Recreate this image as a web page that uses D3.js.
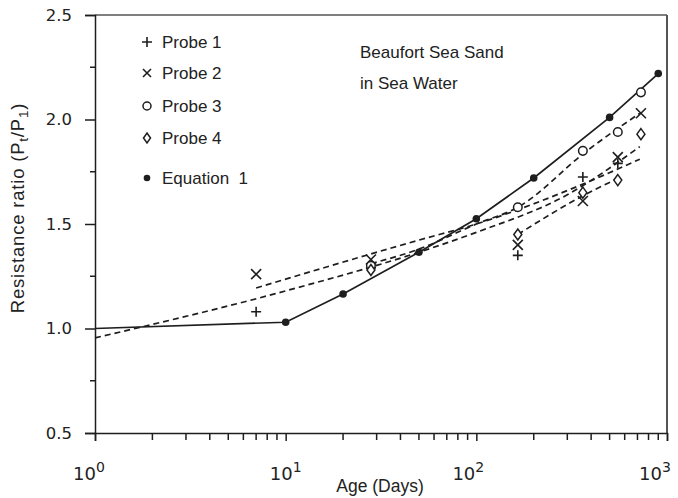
<!DOCTYPE html>
<html><head><meta charset="utf-8">
<script src="https://cdn.jsdelivr.net/npm/d3@7"></script>
<style>
body{margin:0;background:#fff;}
text{font-family:"Liberation Sans",Arial,Helvetica,sans-serif;fill:#222;white-space:pre;}
</style></head>
<body><svg id="c" width="678" height="498"></svg>
<script>
// ---- data ----
const probe1Age = [7, 28, 165, 362, 552];
const probe1 = [1.08, 1.29, 1.35, 1.725, 1.79];
const probe2Age = [7, 28, 165, 362, 552, 730];
const probe2 = [1.26, 1.33, 1.40, 1.61, 1.82, 2.03];
const probe3Age = [28, 165, 362, 552, 730];
const probe3 = [1.30, 1.58, 1.85, 1.94, 2.13];
const probe4Age = [28, 165, 362, 552, 730];
const probe4 = [1.28, 1.45, 1.65, 1.71, 1.93];
const eqAge = [1, 10, 20, 50, 100, 200, 500, 900];
const eqVal = [1.0, 1.03, 1.165, 1.365, 1.525, 1.72, 2.01, 2.22];
// dashed trend curves: ages and values
const trendAAge = [1, 10, 50, 100, 300, 720];
const trendA = [0.955, 1.18, 1.365, 1.46, 1.64, 1.87];
const trendBAge = [7, 50, 100, 300, 720];
const trendB = [1.194, 1.423, 1.50, 1.66, 1.81];
const trendCAge = [28, 50, 100, 165, 380, 720];
const trendC = [1.31, 1.38, 1.50, 1.58, 1.85, 2.03];
const trendDAge = [165, 380, 560];
const trendD = [1.45, 1.645, 1.72];
const yTicks = [0.5, 1.0, 1.5, 2.0, 2.5];
const yMinor = [0.75, 1.25, 1.75, 2.25];
const xTickExp = [0, 1, 2, 3];
const legendLabels = ["Probe 1", "Probe 2", "Probe 3", "Probe 4", "Equation  1"];

// ---- layout ----
const svg = d3.select("#c");
const L = 95, R = 667, T = 15, B = 433;
const x = d3.scaleLog().domain([1, 1000]).range([L, R]);
const y = d3.scaleLinear().domain([0.5, 2.5]).range([B, T]);
const ink = "#1e1e1e";
const numFont = "'DejaVu Sans',sans-serif";

// frame
svg.append("line").attr("x1", L).attr("x2", R).attr("y1", T).attr("y2", T).attr("stroke", "#555").attr("stroke-width", 1.5);
svg.append("line").attr("x1", R).attr("x2", R).attr("y1", T).attr("y2", B).attr("stroke", "#555").attr("stroke-width", 2);

// y axis
const yAx = svg.append("g").attr("transform", `translate(${L},0)`)
  .call(d3.axisLeft(y).tickValues(yTicks).tickFormat(d3.format(".1f")).tickSize(10).tickPadding(13));
yAx.selectAll("text").style("font-size", "16.5px").style("font-family", numFont);
yAx.append("g").selectAll("line").data(yMinor).join("line")
  .attr("x1", -5).attr("x2", 0).attr("y1", d => y(d)).attr("y2", d => y(d));

// x axis
const minor = [];
for (let e = 0; e < 3; e++) for (let m = 2; m <= 9; m++) minor.push(m * Math.pow(10, e));
const xAx = svg.append("g").attr("transform", `translate(0,${B})`)
  .call(d3.axisBottom(x).tickValues(xTickExp.map(e => Math.pow(10, e))).tickFormat("").tickSize(8));
xAx.append("g").selectAll("line").data(minor).join("line")
  .attr("x1", d => x(d)).attr("x2", d => x(d)).attr("y1", 0).attr("y2", 7);
[yAx, xAx].forEach(g => {
  g.select(".domain").attr("stroke", ink).attr("stroke-width", 1.5);
  g.selectAll("line").attr("stroke", ink).attr("stroke-width", 1.5);
});
// x tick labels with superscripts (last one kept inside the page)
const labShift = [-6, 0, -8, -12];
xAx.append("g").selectAll("text").data(xTickExp).join("text")
  .attr("x", (d, i) => x(Math.pow(10, d)) + labShift[i]).attr("y", 47).attr("text-anchor", "middle")
  .style("font-size", "18px").style("font-family", numFont)
  .each(function (d) {
    const t = d3.select(this);
    t.append("tspan").text("10");
    t.append("tspan").attr("dy", -8).style("font-size", "14px").text(d);
  });

// axis titles
svg.append("text").attr("x", 380).attr("y", 492).attr("text-anchor", "middle").style("font-size", "17.5px").text("Age (Days)");
const yt = svg.append("text").attr("transform", "translate(24,208) rotate(-90)").attr("text-anchor", "middle")
  .style("font-size", "18.5px").style("letter-spacing", "0.8px");
yt.append("tspan").text("Resistance ratio (P");
yt.append("tspan").attr("dy", 4).style("font-size", "13.5px").text("t");
yt.append("tspan").attr("dy", -4).text("/P");
yt.append("tspan").attr("dy", 4).style("font-size", "13.5px").text("1");
yt.append("tspan").attr("dy", -4).text(")");

// dashed trend curves
const curve = d3.line().x(d => x(d[0])).y(d => y(d[1])).curve(d3.curveMonotoneX);
[[trendAAge, trendA], [trendBAge, trendB], [trendCAge, trendC], [trendDAge, trendD]].forEach(([ages, vals]) => {
  svg.append("path").datum(ages.map((a, i) => [a, vals[i]])).attr("d", curve)
    .attr("fill", "none").attr("stroke", ink).attr("stroke-width", 1.7).attr("stroke-dasharray", "6,4");
});

// equation line
const eqPts = eqAge.map((a, i) => [a, eqVal[i]]);
svg.append("path").datum(eqPts)
  .attr("d", d3.line().x(d => x(d[0])).y(d => y(d[1])))
  .attr("fill", "none").attr("stroke", ink).attr("stroke-width", 1.7);
svg.append("g").selectAll("circle").data(eqPts.slice(1)).join("circle")
  .attr("cx", d => x(d[0])).attr("cy", d => y(d[1])).attr("r", 3.8).attr("fill", ink);

// markers
function plus(g, cx, cy) { g.append("path").attr("d", `M${cx-5},${cy}H${cx+5}M${cx},${cy-5}V${cy+5}`).attr("stroke", ink).attr("stroke-width", 1.6).attr("fill", "none"); }
function cross(g, cx, cy) { g.append("path").attr("d", `M${cx-5},${cy-5}L${cx+5},${cy+5}M${cx+5},${cy-5}L${cx-5},${cy+5}`).attr("stroke", ink).attr("stroke-width", 1.6).attr("fill", "none"); }
function circ(g, cx, cy) { g.append("circle").attr("cx", cx).attr("cy", cy).attr("r", 4.3).attr("stroke", ink).attr("stroke-width", 1.5).attr("fill", "#fff"); }
function diam(g, cx, cy) { g.append("path").attr("d", `M${cx},${cy-5.5}L${cx+4},${cy}L${cx},${cy+5.5}L${cx-4},${cy}Z`).attr("stroke", ink).attr("stroke-width", 1.5).attr("fill", "#fff"); }
const mk = svg.append("g");
probe1Age.forEach((a, i) => plus(mk, x(a), y(probe1[i])));
probe2Age.forEach((a, i) => cross(mk, x(a), y(probe2[i])));
probe3Age.forEach((a, i) => circ(mk, x(a), y(probe3[i])));
probe4Age.forEach((a, i) => diam(mk, x(a), y(probe4[i])));

// legend
const lg = svg.append("g");
const ly = [42, 73, 106, 138, 178];
plus(lg, 147, ly[0]);
lg.append("path").attr("d", `M143,${ly[1]-4}L151,${ly[1]+4}M151,${ly[1]-4}L143,${ly[1]+4}`).attr("stroke", ink).attr("stroke-width", 1.6);
lg.append("circle").attr("cx", 147).attr("cy", ly[2]).attr("r", 4).attr("stroke", ink).attr("stroke-width", 1.5).attr("fill", "none");
lg.append("path").attr("d", `M147,${ly[3]-5}L150.5,${ly[3]}L147,${ly[3]+5}L143.5,${ly[3]}Z`).attr("stroke", ink).attr("stroke-width", 1.5).attr("fill", "none");
lg.append("circle").attr("cx", 147).attr("cy", ly[4]).attr("r", 3.3).attr("fill", ink);
legendLabels.forEach((t, i) => lg.append("text").attr("x", 162).attr("y", ly[i] + 6).style("font-size", "17px").text(t));

// annotation
svg.append("text").attr("x", 360).attr("y", 58).style("font-size", "17px").text("Beaufort Sea Sand");
svg.append("text").attr("x", 360).attr("y", 89).style("font-size", "17px").text("in Sea Water");
</script></body></html>
